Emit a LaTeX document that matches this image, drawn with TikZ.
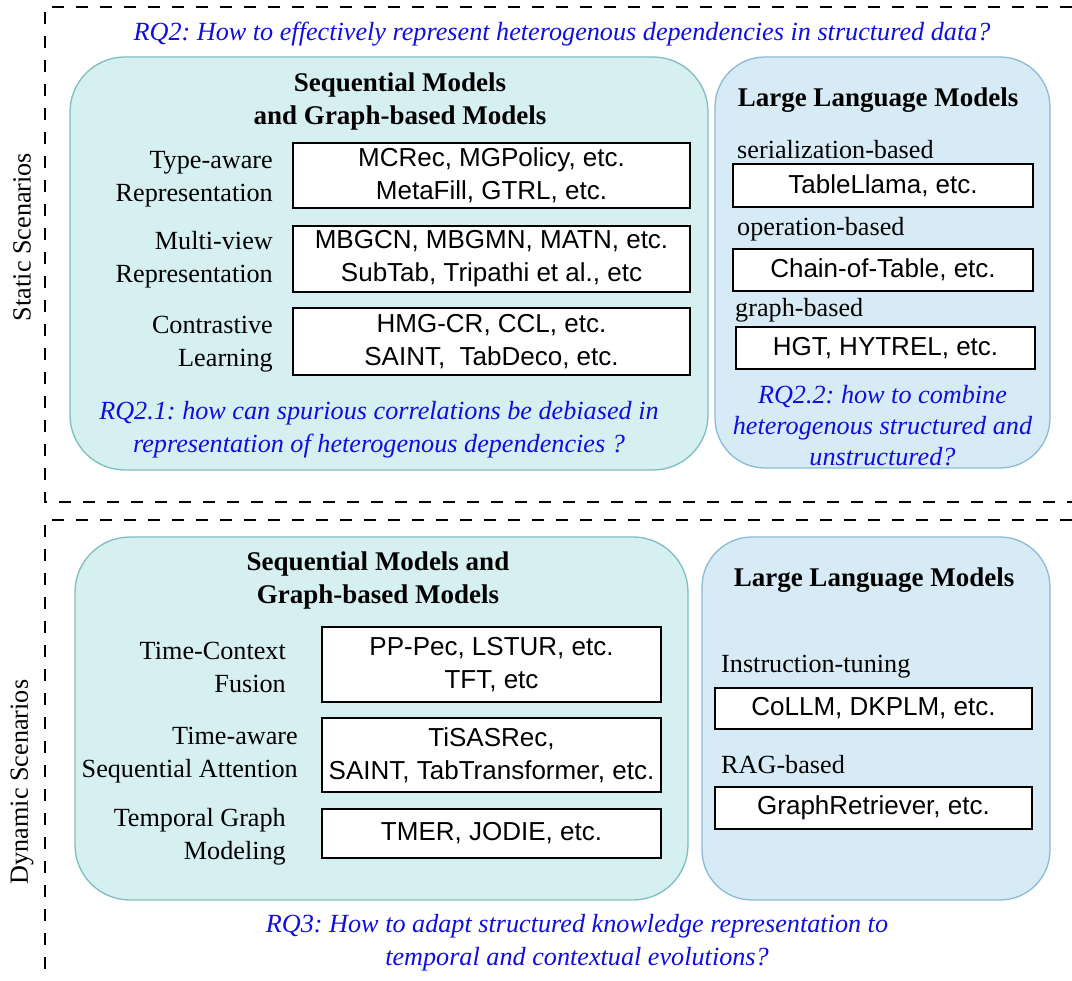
\documentclass[tikz,border=0pt]{standalone}
\usepackage{fontspec}
\setmainfont{Liberation Serif}
\setsansfont{Liberation Sans}
\frenchspacing
\definecolor{panelAfill}{RGB}{214,239,241}
\definecolor{panelAline}{RGB}{126,190,192}
\definecolor{panelBfill}{RGB}{214,235,245}
\definecolor{panelBline}{RGB}{138,186,212}
\definecolor{rqblue}{RGB}{14,14,222}
\newcommand\txtsz{\fontsize{26.2}{33}\selectfont}
\newcommand\boxsz{\fontsize{26}{33}\selectfont}
\newcommand\hdrsz{\fontsize{27}{33}\selectfont}
\tikzset{
  x=1pt, y=-1pt,
  sep/.style={draw=black, line width=1.4pt, dash pattern=on 12pt off 12pt},
  panelA/.style={draw=panelAline, fill=panelAfill, line width=1.3pt,
    rounded corners=55pt, inner sep=0pt},
  panelB/.style={draw=panelBline, fill=panelBfill, line width=1.3pt,
    rounded corners=50pt, inner sep=0pt},
  itembox/.style={draw=black, fill=white, line width=1.3pt, inner sep=0pt,
    align=center, font=\sffamily\boxsz},
  lbl/.style={inner sep=0pt, align=right, anchor=east, font=\txtsz, yshift=-2pt},
  sub/.style={inner sep=0pt, anchor=west, font=\txtsz, yshift=-2pt},
  hdr/.style={inner sep=0pt, align=center, font=\bfseries\hdrsz, yshift=-2pt},
  rq/.style={inner sep=0pt, align=center, text=rqblue, font=\itshape\txtsz, yshift=-2pt},
  side/.style={inner sep=0pt, rotate=90, font=\txtsz},
}
\begin{document}
\begin{tikzpicture}
\useasboundingbox (0,0) rectangle (1072,981);

% section frames
\draw[sep] (1072,7) -- (45,7) -- (45,502) -- (1072,502);
\draw[sep] (1072,520) -- (45,520) -- (45,981);

\node[side] (static) at (22,237) {Static Scenarios};
\node[side] (dynamic) at (22,782) {Dynamic Scenarios};

% ---------- static scenarios ----------
\node[rq] (rq2) at (562,32) {RQ2: How to effectively represent heterogenous dependencies in structured data?};

\node[panelA, minimum width=638pt, minimum height=413pt] (sgA) at (389,263.5) {};
\node[panelB, minimum width=335pt, minimum height=411pt] (llmA) at (882.5,262.5) {};

\node[hdr] (sgAhdr) at (400,99.5) {Sequential Models\\and Graph-based Models};

\node[itembox, minimum width=397pt, minimum height=65pt] (b1) at (491.5,175.5)
  {MCRec, MGPolicy, etc.\\MetaFill, GTRL, etc.};
\node[itembox, minimum width=397pt, minimum height=66pt] (b2) at (491.5,259)
  {MBGCN, MBGMN, MATN, etc.\\SubTab, Tripathi et al., etc};
\node[itembox, minimum width=397pt, minimum height=67pt] (b3) at (491.5,341.5)
  {HMG-CR, CCL, etc.\\SAINT,\ \ TabDeco, etc.};

\node[lbl] (l1) at (273,177) {Type-aware\\Representation};
\node[lbl] (l2) at (273,258) {Multi-view\\Representation};
\node[lbl] (l3) at (273,342) {Contrastive\\Learning};

\node[rq] (rq21) at (379,428) {RQ2.1: how can spurious correlations be debiased in\\representation of heterogenous dependencies ?};

\node[hdr] (llmAhdr) at (878,98) {Large Language Models};
\node[sub] (s1) at (737,148) {serialization-based};
\node[itembox, minimum width=300pt, minimum height=43pt] (c1) at (883,185.5) {TableLlama, etc.};
\node[sub] (s2) at (737,227) {operation-based};
\node[itembox, minimum width=300pt, minimum height=42pt] (c2) at (883,270) {Chain-of-Table, etc.};
\node[sub] (s3) at (735,308) {graph-based};
\node[itembox, minimum width=299pt, minimum height=42pt] (c3) at (885.5,348) {HGT, HYTREL, etc.};

\node[rq, font=\itshape\fontsize{26.2}{31}\selectfont] (rq22) at (882.5,424)
  {RQ2.2: how to combine\\heterogenous structured and\\unstructured?};

% ---------- dynamic scenarios ----------
\node[panelA, minimum width=613pt, minimum height=363pt] (sgB) at (381.5,718.5) {};
\node[panelB, minimum width=348pt, minimum height=363pt] (llmB) at (876,718.5) {};

\node[hdr] (sgBhdr) at (378,578.5) {Sequential Models and\\Graph-based Models};

\node[itembox, minimum width=339pt, minimum height=75pt] (d1) at (491.5,664.5)
  {PP-Pec, LSTUR, etc.\\TFT, etc};
\node[itembox, minimum width=339pt, minimum height=74pt] (d2) at (491.5,755)
  {TiSASRec,\\SAINT, TabTransformer, etc.};
\node[itembox, minimum width=339pt, minimum height=49pt] (d3) at (491.5,833.5)
  {TMER, JODIE, etc.};

\node[lbl] (m1) at (286,665) {Time-Context\\Fusion};
\node[lbl] (m2) at (298,753) {Time-aware\\Sequential Attention};
\node[lbl] (m3) at (286,835) {Temporal Graph\\Modeling};

\node[hdr] (llmBhdr) at (874,578) {Large Language Models};
\node[sub] (t1) at (721,665) {Instruction-tuning};
\node[itembox, minimum width=317pt, minimum height=41pt] (e1) at (873.5,708.5) {CoLLM, DKPLM, etc.};
\node[sub] (t2) at (721,763) {RAG-based};
\node[itembox, minimum width=317pt, minimum height=42pt] (e2) at (873.5,808) {GraphRetriever, etc.};

\node[rq] (rq3) at (577,941) {RQ3: How to adapt structured knowledge representation to\\temporal and contextual evolutions?};
\end{tikzpicture}
\end{document}
